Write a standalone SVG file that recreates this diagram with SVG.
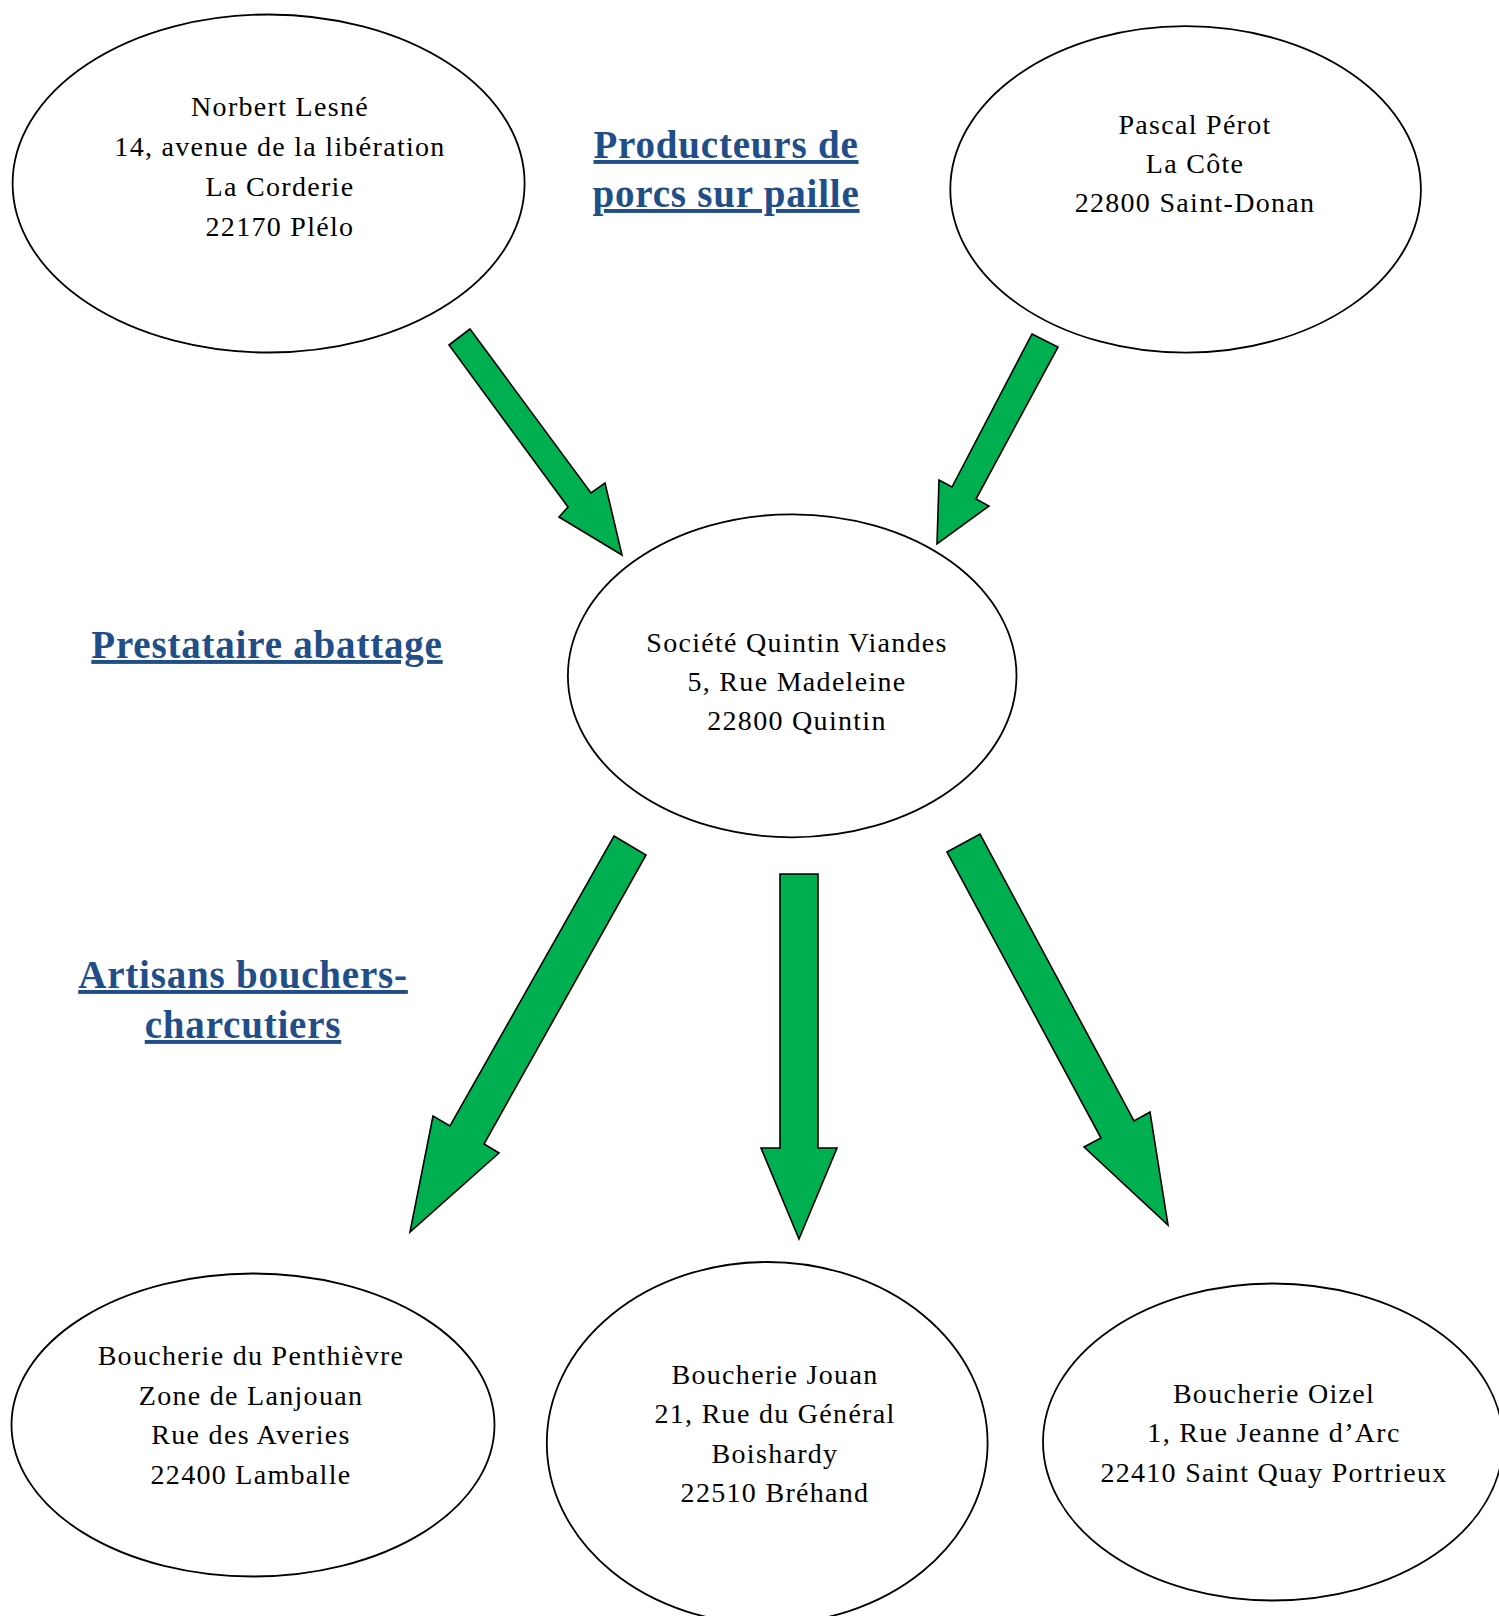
<svg xmlns="http://www.w3.org/2000/svg" width="1499" height="1616" viewBox="0 0 1499 1616">
<style>
.node ellipse{fill:#ffffff;stroke:#000000;stroke-width:1.8}
.node text{font-family:"Liberation Serif","Times New Roman",serif;font-size:28px;letter-spacing:1.3px;fill:#000000;text-anchor:middle}
.arrow{fill:#00B050;stroke:#000000;stroke-width:1.6;stroke-linejoin:miter}
.head{font-family:"Liberation Serif","Times New Roman",serif;font-weight:bold;font-size:39px;letter-spacing:0.8px;fill:#1F4E89;text-anchor:middle;text-decoration:underline}
</style>
<rect width="1499" height="1616" fill="#ffffff"/>
<g id="connectors">
<polygon class="arrow" points="470,329 591,493 605,483 622,555 559,517 568,507 449,345"/>
<polygon class="arrow" points="1032,334 1058,347 976,499 989,506 937,544 939,480 952,487"/>
<polygon class="arrow" points="614,836 646,855 484,1144 499,1153 410,1232 433,1116 450,1126"/>
<polygon class="arrow" points="780,874 818,874 818,1148 837,1148 799,1239 761,1148 780,1148"/>
<polygon class="arrow" points="947,852 980,834 1134,1121 1150,1112 1168,1225 1084,1147 1101,1138"/>
</g>
<g id="heading-producteurs">
<text class="head" x="726" y="158">Producteurs de</text>
<text class="head" x="726" y="207">porcs sur paille</text>
</g>
<g id="heading-prestataire">
<text class="head" x="267" y="658">Prestataire abattage</text>
</g>
<g id="heading-artisans">
<text class="head" x="243" y="988">Artisans bouchers-</text>
<text class="head" x="243" y="1038">charcutiers</text>
</g>
<g id="node-norbert" class="node">
<ellipse cx="268.6" cy="183.5" rx="256" ry="169"/>
<text x="280" y="116">Norbert Lesné</text>
<text x="280" y="156">14, avenue de la libération</text>
<text x="280" y="196">La Corderie</text>
<text x="280" y="236">22170 Plélo</text>
</g>
<g id="node-pascal" class="node">
<ellipse cx="1185.6" cy="189.4" rx="235.3" ry="163.3"/>
<text x="1195" y="134">Pascal Pérot</text>
<text x="1195" y="173">La Côte</text>
<text x="1195" y="212">22800 Saint-Donan</text>
</g>
<g id="node-quintin" class="node">
<ellipse cx="792.2" cy="675.8" rx="224.3" ry="161.5"/>
<text x="797" y="652">Société Quintin Viandes</text>
<text x="797" y="691">5, Rue Madeleine</text>
<text x="797" y="730">22800 Quintin</text>
</g>
<g id="node-penthievre" class="node">
<ellipse cx="253" cy="1425" rx="241.5" ry="151.5"/>
<text x="251" y="1365">Boucherie du Penthièvre</text>
<text x="251" y="1405">Zone de Lanjouan</text>
<text x="251" y="1444">Rue des Averies</text>
<text x="251" y="1484">22400 Lamballe</text>
</g>
<g id="node-jouan" class="node">
<ellipse cx="767.2" cy="1443" rx="220.4" ry="181"/>
<text x="775" y="1384">Boucherie Jouan</text>
<text x="775" y="1423">21, Rue du Général</text>
<text x="775" y="1463">Boishardy</text>
<text x="775" y="1502">22510 Bréhand</text>
</g>
<g id="node-oizel" class="node">
<ellipse cx="1273" cy="1442" rx="230" ry="158.5"/>
<text x="1274" y="1403">Boucherie Oizel</text>
<text x="1274" y="1442">1, Rue Jeanne d’Arc</text>
<text x="1274" y="1482">22410 Saint Quay Portrieux</text>
</g>
</svg>
